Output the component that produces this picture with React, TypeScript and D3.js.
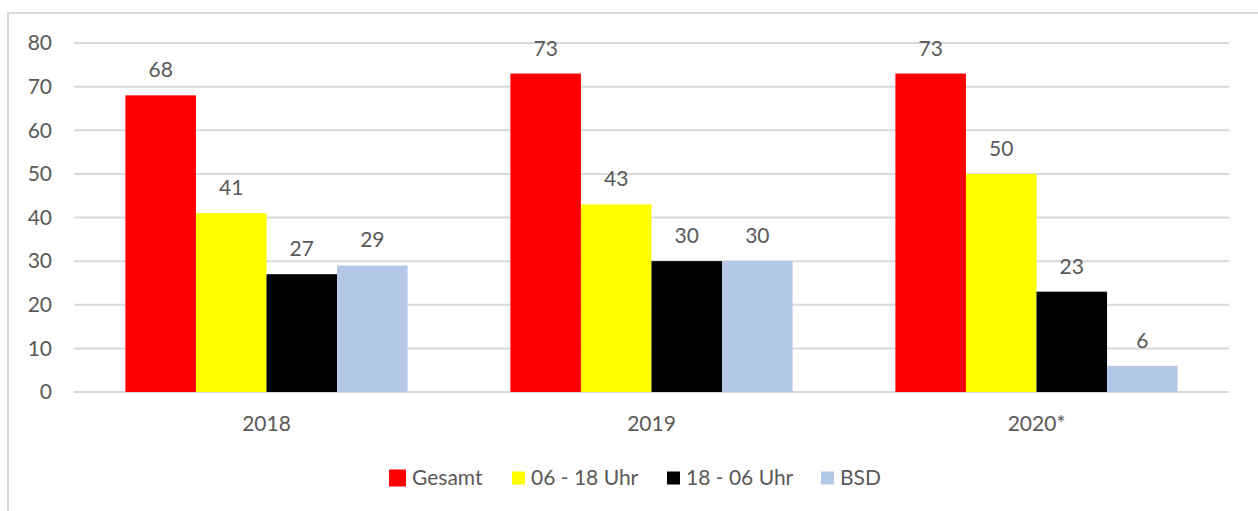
import React, { useMemo } from 'react'
import * as d3 from 'd3'

const categories = ['2018', '2019', '2020*']
const seriesNames = ['Gesamt', '06 - 18 Uhr', '18 - 06 Uhr', 'BSD']
const seriesColors = ['#ff0000', '#ffff00', '#000000', '#b4c7e7']
const gesamt = [68, 73, 73]
const tagsueber = [41, 43, 50]
const nachts = [27, 30, 23]
const bsd = [29, 30, 6]
const yTicks = [0, 10, 20, 30, 40, 50, 60, 70, 80]

const seriesValues = [gesamt, tagsueber, nachts, bsd]

const width = 1258
const height = 511
const margin = { top: 43, right: 29, bottom: 119, left: 74 }
const font = 'Lato, "Open Sans", sans-serif'
const textColor = '#595959'
const fontSize = 21

export default function App() {
  const { x, xInner, y } = useMemo(() => {
    const x = d3.scaleBand<string>()
      .domain(categories)
      .range([margin.left, width - margin.right])
      .paddingInner(0.267)
      .paddingOuter(0.1335)
    const xInner = d3.scaleBand<string>()
      .domain(seriesNames)
      .range([0, x.bandwidth()])
    const y = d3.scaleLinear()
      .domain([0, 80])
      .range([height - margin.bottom, margin.top])
    return { x, xInner, y }
  }, [])

  // Legende: Positionen der Einträge
  const legendItems = [
    { x: 389, size: 17 },
    { x: 512, size: 13 },
    { x: 667, size: 13 },
    { x: 821, size: 13 },
  ]

  return (
    <svg width={width} height={height} style={{ position: 'absolute', left: 0, top: 0, fontFamily: font }}>
      <rect x={0} y={0} width={width} height={height} fill="#ffffff" />
      <rect x={8} y={13} width={width + 10} height={height + 10} fill="none" stroke="#d9d9d9" strokeWidth={2} />

      {/* Gitternetz */}
      {yTicks.map(t => (
        <g key={t}>
          <line x1={margin.left} x2={width - margin.right} y1={y(t)} y2={y(t)} stroke="#d9d9d9" strokeWidth={2} />
          <text x={52} y={y(t)} dy="0.35em" textAnchor="end" fontSize={fontSize} fill={textColor}>{t}</text>
        </g>
      ))}

      {/* Balken */}
      {categories.map((c, ci) => (
        <g key={c} transform={`translate(${x(c)},0)`}>
          {seriesNames.map((s, si) => {
            const v = seriesValues[si][ci]
            const bx = xInner(s) as number
            return (
              <g key={s}>
                <rect x={bx} y={y(v)} width={xInner.bandwidth()} height={y(0) - y(v)} fill={seriesColors[si]} />
                <text x={bx + xInner.bandwidth() / 2} y={y(v) - 18} textAnchor="middle" fontSize={fontSize} fill={textColor}>{v}</text>
              </g>
            )
          })}
          <text x={x.bandwidth() / 2} y={424} dy="0.35em" textAnchor="middle" fontSize={fontSize} fill={textColor}>{c}</text>
        </g>
      ))}

      {/* Legende */}
      {seriesNames.map((s, i) => {
        const it = legendItems[i]
        return (
          <g key={s}>
            <rect x={it.x} y={478 - it.size / 2} width={it.size} height={it.size} fill={seriesColors[i]} />
            <text x={it.x + it.size + 6} y={478} dy="0.35em" fontSize={fontSize} fill={textColor}>{s}</text>
          </g>
        )
      })}
    </svg>
  )
}
